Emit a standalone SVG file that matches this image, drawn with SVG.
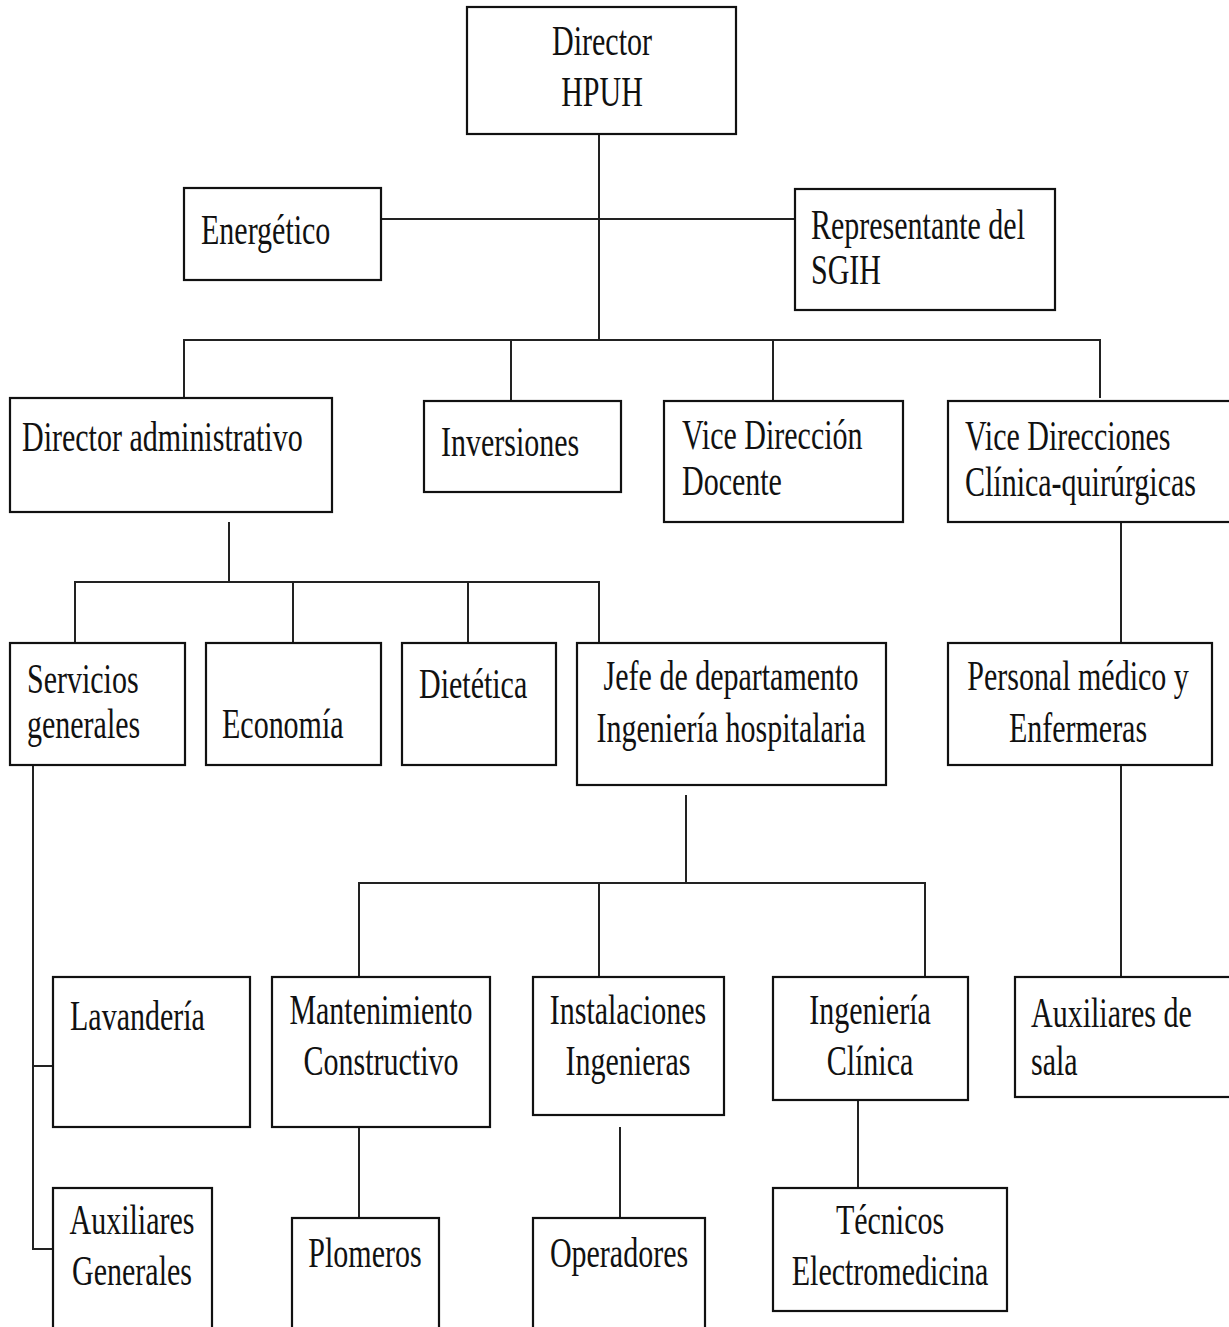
<svg xmlns="http://www.w3.org/2000/svg" width="1229" height="1327" viewBox="0 0 1229 1327">
<style>
.b{fill:#fff;stroke:#111;stroke-width:2.2}
.c line{stroke:#222;stroke-width:2}
.t{font-family:"Liberation Serif","Times New Roman",serif;font-size:30px;fill:#111}
.m{text-anchor:middle}
</style>
<rect width="1229" height="1327" fill="#fff"/>
<g id="connectors" class="c">
<line x1="599" y1="130" x2="599" y2="341"/>
<line x1="381" y1="219" x2="795" y2="219"/>
<line x1="183" y1="340" x2="1101" y2="340"/>
<line x1="184" y1="340" x2="184" y2="398"/>
<line x1="511" y1="340" x2="511" y2="401"/>
<line x1="773" y1="340" x2="773" y2="401"/>
<line x1="1100" y1="340" x2="1100" y2="398"/>
<line x1="229" y1="522" x2="229" y2="583"/>
<line x1="74" y1="582" x2="600" y2="582"/>
<line x1="75" y1="582" x2="75" y2="643"/>
<line x1="293" y1="582" x2="293" y2="643"/>
<line x1="468" y1="582" x2="468" y2="643"/>
<line x1="599" y1="582" x2="599" y2="643"/>
<line x1="1121" y1="522" x2="1121" y2="643"/>
<line x1="33" y1="765" x2="33" y2="1250"/>
<line x1="32" y1="1066" x2="53" y2="1066"/>
<line x1="32" y1="1249" x2="53" y2="1249"/>
<line x1="686" y1="795" x2="686" y2="884"/>
<line x1="358" y1="883" x2="926" y2="883"/>
<line x1="359" y1="883" x2="359" y2="977"/>
<line x1="599" y1="883" x2="599" y2="977"/>
<line x1="925" y1="883" x2="925" y2="977"/>
<line x1="359" y1="1127" x2="359" y2="1218"/>
<line x1="620" y1="1127" x2="620" y2="1218"/>
<line x1="858" y1="1097" x2="858" y2="1188"/>
<line x1="1121" y1="765" x2="1121" y2="977"/>
</g>
<g id="n-director"><rect class="b" x="467" y="7" width="269" height="127"/>
<text class="t m" transform="translate(602 55) scale(1 1.38)">Director</text>
<text class="t m" transform="translate(602 106) scale(1 1.38)">HPUH</text></g>
<g id="n-energetico"><rect class="b" x="184" y="188" width="197" height="92"/>
<text class="t" transform="translate(201 244) scale(1 1.38)">Energético</text></g>
<g id="n-representante"><rect class="b" x="795" y="189" width="260" height="121"/>
<text class="t" transform="translate(811 239) scale(1 1.38)">Representante del</text>
<text class="t" transform="translate(811 284) scale(1 1.38)">SGIH</text></g>
<g id="n-diradmin"><rect class="b" x="10" y="398" width="322" height="114"/>
<text class="t" transform="translate(22 451) scale(1 1.38)">Director administrativo</text></g>
<g id="n-inversiones"><rect class="b" x="424" y="401" width="197" height="91"/>
<text class="t" transform="translate(441 456) scale(1 1.38)">Inversiones</text></g>
<g id="n-vdocente"><rect class="b" x="664" y="401" width="239" height="121"/>
<text class="t" transform="translate(682 449) scale(1 1.38)">Vice Dirección</text>
<text class="t" transform="translate(682 495) scale(1 1.38)">Docente</text></g>
<g id="n-vclinica"><rect class="b" x="948" y="401" width="300" height="121"/>
<text class="t" transform="translate(965 450) scale(1 1.38)">Vice Direcciones</text>
<text class="t" transform="translate(965 496) scale(1 1.38)">Clínica-quirúrgicas</text></g>
<g id="n-servicios"><rect class="b" x="10" y="643" width="175" height="122"/>
<text class="t" transform="translate(27 693) scale(1 1.38)">Servicios</text>
<text class="t" transform="translate(27 738) scale(1 1.38)">generales</text></g>
<g id="n-economia"><rect class="b" x="206" y="643" width="175" height="122"/>
<text class="t" transform="translate(222 738) scale(1 1.38)">Economía</text></g>
<g id="n-dietetica"><rect class="b" x="402" y="643" width="154" height="122"/>
<text class="t" transform="translate(419 698) scale(1 1.38)">Dietética</text></g>
<g id="n-jefe"><rect class="b" x="577" y="643" width="309" height="142"/>
<text class="t m" transform="translate(731 690) scale(1 1.38)">Jefe de departamento</text>
<text class="t m" transform="translate(731 742) scale(1 1.38)">Ingeniería hospitalaria</text></g>
<g id="n-personal"><rect class="b" x="948" y="643" width="264" height="122"/>
<text class="t m" transform="translate(1078 690) scale(1 1.38)">Personal médico y</text>
<text class="t m" transform="translate(1078 742) scale(1 1.38)">Enfermeras</text></g>
<g id="n-lavanderia"><rect class="b" x="53" y="977" width="197" height="150"/>
<text class="t" transform="translate(70 1030) scale(1 1.38)">Lavandería</text></g>
<g id="n-mantenimiento"><rect class="b" x="272" y="977" width="218" height="150"/>
<text class="t m" transform="translate(381 1024) scale(1 1.38)">Mantenimiento</text>
<text class="t m" transform="translate(381 1075) scale(1 1.38)">Constructivo</text></g>
<g id="n-instalaciones"><rect class="b" x="533" y="977" width="191" height="138"/>
<text class="t m" transform="translate(628 1024) scale(1 1.38)">Instalaciones</text>
<text class="t m" transform="translate(628 1075) scale(1 1.38)">Ingenieras</text></g>
<g id="n-ingclinica"><rect class="b" x="773" y="977" width="195" height="123"/>
<text class="t m" transform="translate(870 1024) scale(1 1.38)">Ingeniería</text>
<text class="t m" transform="translate(870 1075) scale(1 1.38)">Clínica</text></g>
<g id="n-auxsala"><rect class="b" x="1015" y="977" width="230" height="120"/>
<text class="t" transform="translate(1031 1027) scale(1 1.38)">Auxiliares de</text>
<text class="t" transform="translate(1031 1075) scale(1 1.38)">sala</text></g>
<g id="n-auxgen"><rect class="b" x="53" y="1188" width="159" height="150"/>
<text class="t m" transform="translate(132 1234) scale(1 1.38)">Auxiliares</text>
<text class="t m" transform="translate(132 1285) scale(1 1.38)">Generales</text></g>
<g id="n-plomeros"><rect class="b" x="292" y="1218" width="147" height="120"/>
<text class="t m" transform="translate(365 1267) scale(1 1.38)">Plomeros</text></g>
<g id="n-operadores"><rect class="b" x="533" y="1218" width="172" height="120"/>
<text class="t m" transform="translate(619 1267) scale(1 1.38)">Operadores</text></g>
<g id="n-tecnicos"><rect class="b" x="773" y="1188" width="234" height="123"/>
<text class="t m" transform="translate(890 1234) scale(1 1.38)">Técnicos</text>
<text class="t m" transform="translate(890 1285) scale(1 1.38)">Electromedicina</text></g>
</svg>
